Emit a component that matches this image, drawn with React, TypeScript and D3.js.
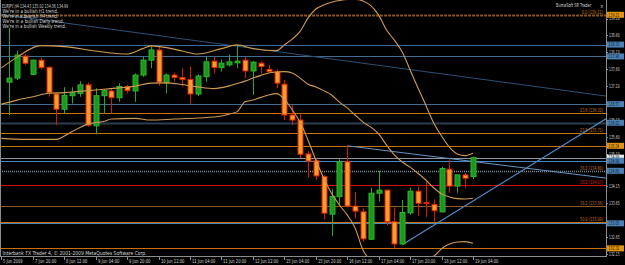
import React, { useLayoutEffect, useRef, useState } from "react";
import * as d3 from "d3";

// ---------- data ----------
const headerText = "EURJPY,H4  134.43 135.02 134.36 134.99";
const trendNotes = [
  "We're in a bullish H1 trend.",
  "We're in a bearish H4 trend.",
  "We're in a bullish Daily trend.",
  "We're in a bullish Weekly trend.",
];
const footerText = "Interbank FX Trader 4, \u00a9 2001-2009 MetaQuotes Software Corp.";
const indicatorName = "BumaSoft SR Trader";

const firstBar = 1;
const opens = [137.22,137.34,137.99,137.45,137.87,137.66,136.87,136.42,136.82,136.89,137.14,135.93,136.82,136.96,136.76,137.09,136.96,137.43,137.87,138.17,137.20,137.43,137.36,137.30,136.87,137.38,137.84,137.65,137.73,137.79,137.87,137.55,137.78,137.60,137.53,137.16,136.25,136.10,135.10,134.90,134.43,133.32,133.84,134.87,133.56,133.39,132.58,133.94,134.03,133.10,132.44,133.36,134.00,133.66,133.61,133.39,134.65,134.15,134.48,134.43];
const highs = [138.82,138.15,138.05,137.89,137.94,137.68,136.89,137.07,137.07,137.25,137.22,137.04,137.01,137.02,137.19,137.14,137.48,137.97,138.32,138.29,137.48,137.50,137.63,137.68,137.45,137.97,137.97,137.89,138.04,138.32,137.97,137.85,137.84,137.73,137.60,137.28,136.54,136.27,135.19,134.97,134.48,134.06,134.94,135.33,133.98,133.49,134.10,134.60,134.05,133.52,133.74,134.10,134.13,134.26,133.76,134.72,134.94,134.50,134.53,135.02];
const lows = [136.25,137.28,137.73,137.43,137.60,136.79,135.95,136.30,136.59,136.79,135.90,135.68,136.30,136.30,136.64,136.89,136.64,137.38,137.63,137.11,136.89,137.23,137.09,136.59,136.81,137.23,137.48,137.53,137.68,137.63,137.33,136.84,137.48,137.48,137.04,136.10,135.95,134.98,134.41,134.33,133.17,132.67,133.59,133.52,133.20,132.51,132.56,133.69,133.00,132.31,132.42,133.30,133.27,133.24,133.10,133.37,133.95,133.95,134.08,134.36];
const closes = [137.34,138.02,137.78,137.87,137.65,136.91,136.42,136.83,136.91,137.14,135.95,136.82,136.97,136.76,137.09,136.97,137.43,137.87,138.17,137.22,137.43,137.36,137.30,136.87,137.40,137.82,137.65,137.78,137.82,137.84,137.55,137.81,137.68,137.53,137.19,136.25,136.10,135.09,134.89,134.45,133.35,133.84,134.87,133.56,133.41,132.59,133.94,134.03,133.10,132.44,133.37,134.00,133.64,133.64,133.42,134.67,134.15,134.48,134.38,134.99];

// Bollinger bands, [bar, price]
const upperBand: [number, number][] = [[0,137.64],[2,137.96],[5,138.30],[8,138.27],[12,138.14],[16,138.05],[18,138.21],[19,138.29],[21,138.24],[23,138.14],[25,138.05],[28,138.21],[30,138.32],[32,138.21],[35,138.15],[36,138.32],[37,138.49],[38,138.72],[39,139.11],[40,139.38],[41,139.50],[42,139.58],[43,139.63],[44,139.66],[45,139.66],[46,139.62],[47,139.48],[48,139.20],[49,138.76],[50,138.46],[51,138.11],[52,137.58],[53,137.05],[54,136.54],[55,136.01],[56,135.63],[57,135.30],[58,135.10],[59,135.05],[60,135.12]];
const middleBand: [number, number][] = [[0,136.57],[2,136.69],[4,136.79],[6,136.89],[8,136.91],[10,136.95],[12,136.99],[15,137.05],[17,137.10],[19,137.19],[21,137.20],[23,137.15],[25,137.08],[27,137.03],[29,137.11],[30,137.18],[31,137.25],[32,137.34],[33,137.42],[34,137.49],[35,137.52],[36,137.53],[37,137.49],[38,137.34],[39,137.16],[40,137.08],[41,136.97],[42,136.84],[43,136.63],[44,136.46],[45,136.25],[46,136.04],[47,135.89],[48,135.69],[49,135.36],[50,135.07],[51,134.86],[52,134.71],[53,134.53],[54,134.33],[55,134.10],[56,133.92],[57,133.83],[58,133.78],[59,133.77],[60,133.79]];
const lowerBand: [number, number][] = [[0,135.56],[3,135.53],[7,135.53],[8,135.63],[9,135.76],[10,135.88],[11,135.98],[13,136.06],[14,136.13],[17,136.15],[19,136.10],[22,136.13],[25,136.16],[28,136.22],[29,136.28],[30,136.35],[31,136.64],[32,136.69],[33,136.77],[34,136.84],[35,136.88],[36,136.72],[37,136.40],[38,136.04],[39,135.51],[40,134.92],[41,134.39],[42,133.94],[43,133.59],[44,133.30],[45,132.91],[46,132.26],[47,131.95],[48,131.80],[49,131.75],[50,131.70],[51,131.75],[52,131.85],[53,131.93],[54,131.98],[55,132.08],[56,132.30],[57,132.44],[58,132.50],[59,132.51],[60,132.46]];

const timeLabelBars = [0,4,8,12,16,20,24,28,32,36,40,44,48,52,56,60];
const timeLabels = ["5 Jun 2009","7 Jun 20:00","8 Jun 12:00","9 Jun 04:00","9 Jun 20:00","10 Jun 12:00","11 Jun 04:00","11 Jun 20:00","12 Jun 12:00","15 Jun 04:00","15 Jun 20:00","16 Jun 12:00","17 Jun 04:00","17 Jun 20:00","18 Jun 12:00","19 Jun 04:00"];

// visible price-scale labels (the others are hidden under the price tags)
const priceTicks = [139.10,138.60,138.10,137.60,137.10,136.10,135.60,135.10,134.15,133.65,132.65,132.15];

// support / resistance lines
const srPrices = [138.33, 137.98, 136.57, 136.02, 135.34, 134.90, 133.05, 132.31];
const srKinds = ["blue", "blue", "blue", "slate", "orange", "bright", "bright", "orange"];
// fibonacci lines
const fibPrices = [139.21, 136.32, 135.71, 134.60, 134.17, 133.56, 133.09];
const fibRatios = ["0.0", "23.6", "23.6", "38.2", "38.2", "38.2", "50.0"];
const fibKinds = ["brownDash", "orange", "orange", "greyDot", "red", "brown", "orange"];
const bidPrice = 134.99;

// price tags on the axis
const tagPrices = [139.21, 138.33, 137.98, 136.57, 136.02, 135.34, 134.99, 134.90, 134.60, 133.05, 132.31];
const tagKinds = ["orange", "blue", "blue", "blue", "blue", "orange", "white", "blue", "blue", "blue", "orange"];

// trend lines: two anchors each [bar, price]
const trendBars = [[0, 60], [51, 60], [44, 60]];
const trendPrices = [[139.22, 137.34], [132.42, 133.71], [135.34, 134.876]];
const trendKinds = ["dark", "bright", "light"];
const trendFromLeftEdge = [true, false, false];

// ---------- styles ----------
const lineStyle: Record<string, { stroke: string; width: number; dash?: string }> = {
  blue: { stroke: "#3f6d93", width: 1 },
  slate: { stroke: "#2b3f52", width: 2 },
  orange: { stroke: "#c8700c", width: 1 },
  bright: { stroke: "#4a86c0", width: 1 },
  brownDash: { stroke: "#86551f", width: 2, dash: "3,1" },
  greyDot: { stroke: "#7d8c9c", width: 1.5, dash: "1,1" },
  red: { stroke: "#d01010", width: 1 },
  brown: { stroke: "#8b5a2b", width: 1 },
  bid: { stroke: "#8a96a4", width: 1 },
};
const fibTextColor: Record<string, string> = {
  brownDash: "#c8781e",
  orange: "#c8781e",
  greyDot: "#c8781e",
  red: "#e02020",
  brown: "#b8782e",
};
const tagStyle: Record<string, { bg: string; fg: string }> = {
  orange: { bg: "#e2940e", fg: "#2a1800" },
  blue: { bg: "#4a80b2", fg: "#0c1c2c" },
  white: { bg: "#ececec", fg: "#000" },
};
const trendStyle: Record<string, { stroke: string; width: number }> = {
  dark: { stroke: "#2c5274", width: 1 },
  bright: { stroke: "#4f90cc", width: 1.2 },
  light: { stroke: "#6396c6", width: 1 },
};

const W = 625;
const H = 265;
const PLOT_R = 606;
const PLOT_B = 256;
const FS = 5.5;
const TXT = "#d6d6d6";

// text squeezed horizontally to a target width (the screenshot is a downscaled one)
function T(props: { x: number; y: number; s: string; w: number; anchor?: string; fill?: string; size?: number }) {
  const { x, y, s, w, anchor = "start", fill = TXT, size = FS } = props;
  const ref = useRef<SVGTextElement>(null);
  const [k, setK] = useState(0.55);
  useLayoutEffect(() => {
    const el = ref.current;
    if (el) {
      const len = el.getComputedTextLength();
      if (len > 0) setK(w / len);
    }
  }, [s, w, size]);
  return (
    <text
      ref={ref}
      transform={`translate(${x},${y}) scale(${k},1)`}
      x={0}
      y={0}
      textAnchor={anchor}
      fill={fill}
      fontSize={size}
      dominantBaseline="central"
    >
      {s}
    </text>
  );
}

export default function App() {
  const x = d3.scaleLinear().domain([0, 60]).range([1.4, 473]);
  const y = d3.scaleLinear().domain([132.15, 139.1]).range([253.8, 18.5]);
  const crisp = (v: number) => Math.round(v) + 0.5;

  const bandLine = d3
    .line<[number, number]>()
    .x((d) => x(d[0]))
    .y((d) => y(d[1]))
    .curve(d3.curveMonotoneX);

  const bars = opens.map((o, i) => ({
    i: i + firstBar,
    o,
    h: highs[i],
    l: lows[i],
    c: closes[i],
  }));

  const hLine = (p: number, kind: string, key: string) => {
    const st = lineStyle[kind];
    const yy = crisp(y(p));
    return (
      <line
        key={key}
        x1={0}
        x2={PLOT_R}
        y1={yy}
        y2={yy}
        stroke={st.stroke}
        strokeWidth={st.width}
        strokeDasharray={st.dash}
      />
    );
  };

  const xLeftBar = x.invert(0);
  const xRightBar = x.invert(PLOT_R);

  return (
    <svg
      width={W}
      height={H}
      style={{ position: "fixed", left: 0, top: 0, background: "#000" }}
      fontFamily="DejaVu Sans, sans-serif"
    >
      <defs>
        <clipPath id="plotClip">
          <rect x={0} y={0} width={PLOT_R} height={PLOT_B} />
        </clipPath>
      </defs>
      <rect x={0} y={0} width={W} height={H} fill="#000" />

      <g clipPath="url(#plotClip)">
        {/* horizontal levels */}
        {srPrices.map((p, k) => hLine(p, srKinds[k], "sr" + k))}
        {fibPrices.map((p, k) => hLine(p, fibKinds[k], "fib" + k))}
        {hLine(bidPrice, "bid", "bid")}

        {/* trend lines */}
        {trendBars.map((b, k) => {
          const pr = trendPrices[k];
          const slope = (pr[1] - pr[0]) / (b[1] - b[0]);
          const startBar = trendFromLeftEdge[k] ? xLeftBar : b[0];
          const st = trendStyle[trendKinds[k]];
          return (
            <line
              key={"tr" + k}
              x1={x(startBar)}
              y1={y(pr[0] + slope * (startBar - b[0]))}
              x2={PLOT_R}
              y2={y(pr[0] + slope * (xRightBar - b[0]))}
              stroke={st.stroke}
              strokeWidth={st.width}
            />
          );
        })}

        {/* candles */}
        {bars.map((d) => {
          const cx = Math.round(x(d.i));
          const bull = d.c >= d.o;
          const top = y(Math.max(d.o, d.c));
          const bot = y(Math.min(d.o, d.c));
          const wick = bull ? "#25a825" : "#d81800";
          return (
            <g key={"c" + d.i}>
              <line x1={cx + 0.5} x2={cx + 0.5} y1={y(d.h)} y2={y(d.l)} stroke={wick} strokeWidth={1} />
              <rect
                x={cx - 2}
                y={top}
                width={5}
                height={Math.max(1, bot - top)}
                fill={bull ? "#1c961c" : "#f89c2c"}
                stroke={bull ? "#2cb82c" : "#e42000"}
                strokeWidth={1}
              />
            </g>
          );
        })}

        {/* bollinger bands */}
        {[upperBand, middleBand, lowerBand].map((b, k) => (
          <path key={"bb" + k} d={bandLine(b) || ""} fill="none" stroke="#cf9a52" strokeWidth={1.1} />
        ))}

        {/* fib labels */}
        {fibPrices.map((p, k) => {
          const s = `${fibRatios[k]} (${p.toFixed(2)})`;
          return (
            <T key={"fl" + k} x={603} y={y(p) - 2.8} s={s} w={s.length * 1.77} anchor="end" fill={fibTextColor[fibKinds[k]]} />
          );
        })}
      </g>

      {/* top-left info */}
      <T x={2} y={5.7} s={headerText} w={66} />
      {trendNotes.map((s, k) => (
        <T key={"tn" + k} x={2.5} y={11 + k * 5} s={s} w={s.length * 1.98} />
      ))}
      <T x={556} y={5.7} s={indicatorName} w={35} />
      <T x={600.5} y={5.7} s="x" w={2.6} />

      {/* footer */}
      <T x={2.5} y={252.6} s={footerText} w={144} />

      {/* axes borders */}
      <line x1={0.5} x2={0.5} y1={0} y2={PLOT_B} stroke="#8c8c8c" strokeWidth={1} />
      <line x1={PLOT_R + 0.5} x2={PLOT_R + 0.5} y1={0} y2={PLOT_B + 1} stroke="#8c8c8c" strokeWidth={1} />
      <line x1={0} x2={PLOT_R + 1} y1={PLOT_B + 0.5} y2={PLOT_B + 0.5} stroke="#8c8c8c" strokeWidth={1} />

      {/* price axis */}
      {priceTicks.map((p, k) => (
        <g key={"pt" + k}>
          <line x1={PLOT_R} x2={PLOT_R + 2} y1={crisp(y(p))} y2={crisp(y(p))} stroke="#8c8c8c" />
          <T x={609} y={y(p)} s={p.toFixed(2)} w={10.6} />
        </g>
      ))}
      {tagPrices.map((p, k) => {
        const st = tagStyle[tagKinds[k]];
        return (
          <g key={"tag" + k}>
            <rect x={607} y={y(p) - 3} width={17} height={6} fill={st.bg} />
            <T x={608.5} y={y(p)} s={p.toFixed(2)} w={10.8} fill={st.fg} />
          </g>
        );
      })}

      {/* time axis */}
      {timeLabelBars.map((b, k) => {
        const tx = Math.round(x(b)) + 0.5;
        return (
          <g key={"tl" + k}>
            <line x1={tx} x2={tx} y1={PLOT_B} y2={PLOT_B + 4} stroke="#8c8c8c" />
            <T x={tx + 1.5} y={261.6} s={timeLabels[k]} w={timeLabels[k].length * 1.95} />
          </g>
        );
      })}
    </svg>
  );
}
